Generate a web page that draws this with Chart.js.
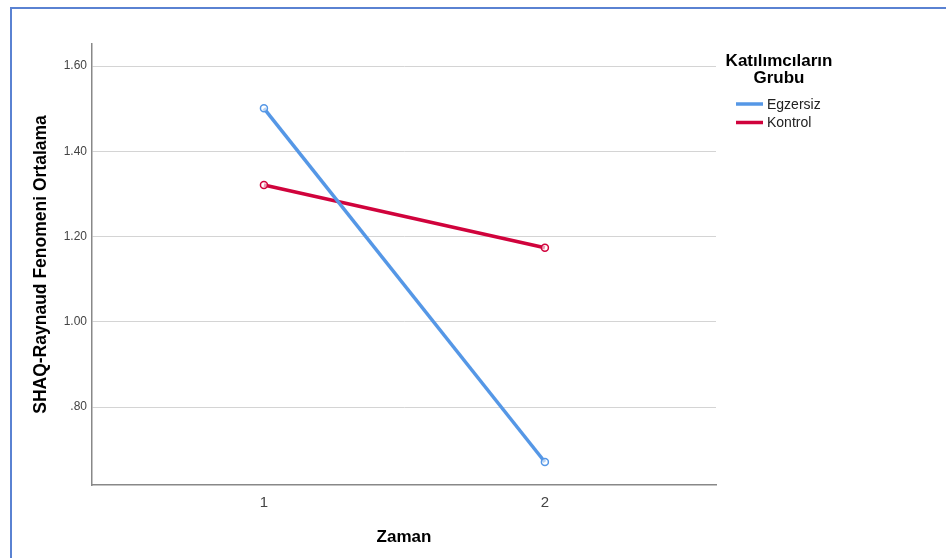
<!DOCTYPE html>
<html>
<head>
<meta charset="utf-8">
<script src="https://cdn.jsdelivr.net/npm/chart.js@4"></script>
<style>
  html, body { margin: 0; padding: 0; background: #fff; }
  #wrap { width: 946px; height: 558px; }
</style>
</head>
<body>
<div id="wrap"><canvas id="chart"></canvas></div>
<script>
const zaman = [1, 2];
const egzersiz = [1.501, 0.671];
const kontrol = [1.321, 1.174];
const seriesNames = ['Egzersiz', 'Kontrol'];
const seriesColors = ['#5597e6', '#d0033c'];
const yTicks = [0.8, 1.0, 1.2, 1.4, 1.6];

const FONT = "'Liberation Sans', Arial, sans-serif";

function points(values) {
  return zaman.map((x, i) => ({ x: x, y: values[i] }));
}

// blue frame round the output, as in the viewer
const frame = {
  id: 'frame',
  beforeDraw(chart) {
    const ctx = chart.ctx;
    ctx.save();
    ctx.fillStyle = '#fff';
    ctx.fillRect(0, 0, chart.width, chart.height);
    ctx.strokeStyle = '#5a82d2';
    ctx.lineWidth = 2;
    ctx.beginPath();
    ctx.moveTo(11, chart.height);
    ctx.lineTo(11, 8);
    ctx.lineTo(chart.width, 8);
    ctx.stroke();
    ctx.restore();
  }
};

// legend drawn on the right, with a two line centred title
const sideLegend = {
  id: 'sideLegend',
  afterDraw(chart) {
    const ctx = chart.ctx;
    ctx.save();
    ctx.fillStyle = '#000';
    ctx.font = 'bold 17px ' + FONT;
    ctx.textAlign = 'center';
    ctx.textBaseline = 'middle';
    ctx.fillText('Katılımcıların', 779, 61);
    ctx.fillText('Grubu', 779, 78);
    ctx.font = '14px ' + FONT;
    ctx.textAlign = 'left';
    chart.data.datasets.forEach((ds, i) => {
      const y = 104 + i * 18.5;
      ctx.strokeStyle = ds.borderColor;
      ctx.lineWidth = 3.5;
      ctx.beginPath();
      ctx.moveTo(736, y);
      ctx.lineTo(763, y);
      ctx.stroke();
      ctx.fillStyle = '#222';
      ctx.fillText(ds.label, 767, y + 1);
    });
    ctx.restore();
  }
};

new Chart(document.getElementById('chart'), {
  type: 'line',
  data: {
    datasets: [{
      label: seriesNames[0],
      data: points(egzersiz),
      borderColor: seriesColors[0],
      backgroundColor: seriesColors[0],
      pointBackgroundColor: 'rgba(255,255,255,0.6)',
      pointBorderColor: seriesColors[0],
    }, {
      label: seriesNames[1],
      data: points(kontrol),
      borderColor: seriesColors[1],
      backgroundColor: seriesColors[1],
      pointBackgroundColor: 'rgba(255,255,255,0.6)',
      pointBorderColor: seriesColors[1],
    }]
  },
  options: {
    responsive: true,
    maintainAspectRatio: false,
    animation: false,
    events: [],
    layout: { padding: { top: 44, right: 230, bottom: 0, left: 0 } },
    elements: {
      line: { borderWidth: 3.5, tension: 0 },
      point: { radius: 3.5, borderWidth: 1.5 }
    },
    plugins: {
      legend: { display: false },
      tooltip: { enabled: false }
    },
    scales: {
      x: {
        type: 'linear',
        min: 0.388,
        max: 2.609,
        afterBuildTicks: scale => { scale.ticks = zaman.map(v => ({ value: v })); },
        afterFit: scale => { scale.height = 73; },
        grid: { color: 'rgba(0,0,0,0)', drawTicks: false },
        border: { color: '#888', width: 1.5 },
        ticks: {
          padding: 9,
          color: '#444',
          font: { family: FONT, size: 15 },
          callback: v => String(v)
        },
        title: {
          display: true,
          text: 'Zaman',
          color: '#000',
          font: { family: FONT, size: 17, weight: 'bold' },
          padding: { top: 0, bottom: 10 }
        }
      },
      y: {
        min: 0.617,
        max: 1.652,
        afterBuildTicks: scale => { scale.ticks = yTicks.map(v => ({ value: v })); },
        afterFit: scale => { scale.width = 92; },
        grid: { color: '#d4d4d4', lineWidth: 1, drawTicks: false },
        border: { color: '#888', width: 1.5 },
        ticks: {
          padding: 5,
          color: '#444',
          font: { family: FONT, size: 12 },
          callback: v => {
            const s = v.toFixed(2);
            return s.startsWith('0') ? s.slice(1) : s;
          }
        },
        title: {
          display: true,
          text: 'SHAQ-Raynaud Fenomeni Ortalama',
          color: '#000',
          font: { family: FONT, size: 17.5, weight: 'bold' },
          padding: { top: 31, bottom: 0 }
        }
      }
    }
  },
  plugins: [frame, sideLegend]
});
</script>
</body>
</html>
